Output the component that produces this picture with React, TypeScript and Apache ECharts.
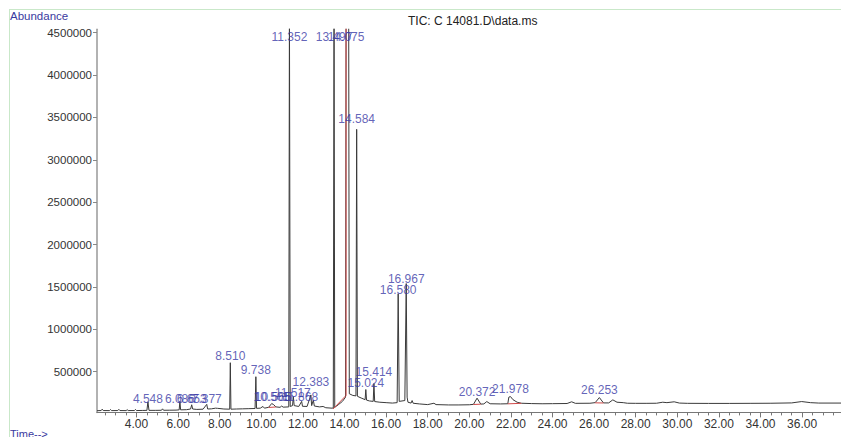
import React, { useEffect, useRef } from "react";
import * as echarts from "echarts";

// Retention time axis (min) and abundance axis
const xMin = 2.1;
const xMax = 37.87;
const yMin = 20000;
const yMax = 4540000;
const xTickLabels = [4, 6, 8, 10, 12, 14, 16, 18, 20, 22, 24, 26, 28, 30, 32, 34, 36];
const yTickLabels = [500000, 1000000, 1500000, 2000000, 2500000, 3000000, 3500000, 4000000, 4500000];

// TIC trace: [retention time (min), abundance]
const trace: [number, number][] = [
  [2.1, 40000], [2.3, 42000], [2.35, 58000], [2.4, 42000], [2.7, 41000], [2.75, 54000], [2.8, 41000],
  [3.1, 42000], [3.15, 56000], [3.2, 42000], [3.5, 41000], [3.55, 52000], [3.6, 42000], [3.9, 42000],
  [3.95, 55000], [4.0, 42000], [4.3, 43000], [4.5, 44000], [4.548, 145000], [4.6, 44000], [4.9, 44000],
  [5.2, 45000], [5.25, 62000], [5.3, 45000], [5.6, 46000], [5.9, 47000], [6.05, 50000], [6.086, 150000],
  [6.12, 50000], [6.4, 52000], [6.6, 60000], [6.653, 110000], [6.7, 60000], [6.9, 55000], [7.2, 58000],
  [7.377, 115000], [7.42, 60000], [7.6, 62000], [7.8, 70000], [7.9, 68000], [8.2, 60000], [8.48, 58000],
  [8.51, 606000], [8.54, 58000], [8.8, 60000], [9.1, 62000], [9.4, 64000], [9.7, 66000], [9.738, 441000],
  [9.77, 68000], [9.95, 70000], [10.08, 90000], [10.15, 70000], [10.35, 80000], [10.5, 125000],
  [10.6, 110000], [10.7, 85000], [10.9, 80000], [10.98, 95000], [11.05, 82000], [11.32, 85000],
  [11.352, 4800000], [11.39, 90000], [11.5, 100000], [11.54, 205000], [11.58, 100000], [11.8, 90000],
  [11.94, 150000], [11.98, 92000], [12.2, 90000], [12.383, 226000], [12.42, 100000], [12.5, 165000],
  [12.55, 95000], [12.8, 85000], [12.97, 90000], [13.1, 75000], [13.4, 70000], [13.46, 72000],
  [13.497, 4800000], [13.53, 80000], [13.7, 110000], [13.9, 150000], [14.05, 200000], [14.075, 4800000],
  [14.2, 4800000], [14.23, 240000], [14.4, 220000], [14.55, 215000], [14.584, 3360000], [14.62, 210000],
  [14.8, 190000], [14.99, 170000], [15.024, 290000], [15.06, 165000], [15.2, 155000], [15.38, 150000],
  [15.414, 360000], [15.45, 148000], [15.7, 140000], [16.0, 135000], [16.3, 130000], [16.53, 135000],
  [16.58, 1420000], [16.63, 150000], [16.9, 160000], [16.967, 1540000], [17.01, 200000], [17.05, 140000],
  [17.2, 130000], [17.25, 160000], [17.3, 128000], [17.6, 120000], [18.0, 112000], [18.3, 128000],
  [18.4, 112000], [19.0, 108000], [19.5, 108000], [20.0, 110000], [20.2, 115000], [20.372, 188000],
  [20.55, 118000], [20.7, 120000], [20.84, 148000], [21.0, 122000], [21.5, 120000], [21.85, 122000],
  [21.9, 200000], [21.978, 207000], [22.1, 170000], [22.3, 140000], [22.5, 128000], [23.0, 124000],
  [23.5, 122000], [24.0, 123000], [24.7, 125000], [24.92, 145000], [25.1, 127000], [25.8, 128000],
  [26.05, 135000], [26.253, 195000], [26.45, 132000], [26.7, 132000], [26.9, 168000], [27.1, 140000],
  [27.4, 135000], [27.6, 128000], [28.0, 127000], [28.5, 127000], [29.0, 128000], [29.3, 140000],
  [29.5, 135000], [29.85, 145000], [30.1, 130000], [30.5, 127000], [31.5, 126000], [32.5, 126000],
  [33.5, 127000], [34.5, 128000], [35.5, 132000], [35.98, 148000], [36.4, 135000], [36.8, 130000],
  [37.87, 130000],
];

// Integration marks (red)
const integrationMarks: [number, number][][] = [
  [[13.45, 60000], [14.075, 220000], [14.075, 4800000]],
  [[10.35, 78000], [10.7, 84000]],
  [[20.2, 113000], [20.55, 117000]],
  [[21.85, 121000], [22.5, 127000]],
  [[26.05, 133000], [26.45, 131000]],
];

// Peak labels: text, retention time of label centre, abundance at label centre
const peakLabelText = ["4.548", "6.086", "6.653", "7.377", "8.510", "9.738", "10.505", "10.565", "11.517", "11.868", "12.383", "11.352", "13.497", "14.075", "14.584", "15.024", "15.414", "16.580", "16.967", "20.372", "21.978", "26.253"];
const peakLabelTime = [4.548, 6.086, 6.653, 7.377, 8.51, 9.738, 10.505, 10.565, 11.517, 11.868, 12.383, 11.352, 13.497, 14.075, 14.584, 15.024, 15.414, 16.58, 16.967, 20.372, 21.978, 26.253];
const peakLabelLevel = [180000, 180000, 180000, 180000, 684000, 520000, 203000, 203000, 250000, 203000, 380000, 4450000, 4450000, 4450000, 3480000, 368000, 497000, 1460000, 1590000, 262000, 297000, 285000];

const FONT = "'Liberation Sans', Arial, sans-serif";
const LABEL_BLUE = "#3a3aa6";

export default function App() {
  const ref = useRef<HTMLDivElement>(null);
  useEffect(() => {
    if (!ref.current) return;
    const chart = echarts.init(ref.current, undefined, { renderer: "svg" });
    const minorTicks: number[] = [];
    for (let i = 5; i <= 75; i++) {
      const v = i / 2;
      if (v > xMin && v < xMax && !xTickLabels.includes(v)) minorTicks.push(v);
    }
    const option: any = {
      animation: false,
      backgroundColor: "#ffffff",
      grid: { left: 97, top: 29.3, right: 0, height: 383.1 },
      xAxis: [
        {
          type: "value",
          min: xMin,
          max: xMax,
          axisLine: { show: true, onZero: false, lineStyle: { color: "#777", width: 1.2 } },
          axisTick: { show: true, customValues: xTickLabels, length: 5, lineStyle: { color: "#777" } },
          axisLabel: {
            customValues: xTickLabels,
            formatter: (v: number) => v.toFixed(2),
            color: "#333",
            fontSize: 12,
            fontFamily: FONT,
            margin: 6,
          },
          splitLine: { show: false },
        },
        {
          type: "value",
          min: xMin,
          max: xMax,
          position: "bottom",
          axisLine: { show: false },
          axisTick: { show: true, customValues: minorTicks, length: 3, lineStyle: { color: "#777" } },
          axisLabel: { show: false },
          splitLine: { show: false },
        },
      ],
      yAxis: {
        type: "value",
        min: yMin,
        max: yMax,
        axisLine: { show: true, onZero: false, lineStyle: { color: "#999", width: 1.5 } },
        axisTick: { show: true, customValues: yTickLabels, length: 4, lineStyle: { color: "#888" } },
        axisLabel: {
          customValues: yTickLabels,
          formatter: (v: number) => String(Math.round(v)),
          color: "#333",
          fontSize: 11.5,
          fontFamily: FONT,
          margin: 5,
        },
        splitLine: { show: false },
      },
      graphic: [
        { type: "line", shape: { x1: 9, y1: 9.5, x2: 841, y2: 9.5 }, style: { stroke: "#c9e8c9", lineWidth: 1 } },
        { type: "line", shape: { x1: 9.5, y1: 9, x2: 9.5, y2: 437 }, style: { stroke: "#c9e8c9", lineWidth: 1 } },
        { type: "text", left: 10, top: 10, style: { text: "Abundance", fill: "#3a3aa0", font: `11.5px ${FONT}` } },
        { type: "text", left: 408, top: 15, style: { text: "TIC: C 14081.D\\data.ms", fill: "#222", font: `12px ${FONT}` } },
        { type: "text", left: 10, top: 428, style: { text: "Time-->", fill: "#3a3aa0", font: `11px ${FONT}` } },
      ],
      series: [
        {
          type: "line",
          data: trace,
          showSymbol: false,
          symbol: "none",
          clip: true,
          lineStyle: { color: "#3a3a3a", width: 1 },
          z: 2,
        },
        ...integrationMarks.map((seg) => ({
          type: "line",
          data: seg,
          showSymbol: false,
          symbol: "none",
          clip: true,
          lineStyle: { color: "#d04848", width: 1 },
          z: 3,
        })),
        {
          type: "scatter",
          symbolSize: 1,
          itemStyle: { color: "rgba(0,0,0,0)" },
          data: peakLabelText.map((t, i) => ({ name: t, value: [peakLabelTime[i], peakLabelLevel[i]] })),
          label: {
            show: true,
            formatter: "{b}",
            position: "inside",
            color: LABEL_BLUE,
            fontSize: 12,
            fontFamily: FONT,
          },
          clip: false,
          z: 5,
        },
      ],
    };
    chart.setOption(option);
    return () => chart.dispose();
  }, []);
  return <div ref={ref} style={{ position: "absolute", left: 0, top: 0, width: 841, height: 437 }} />;
}
